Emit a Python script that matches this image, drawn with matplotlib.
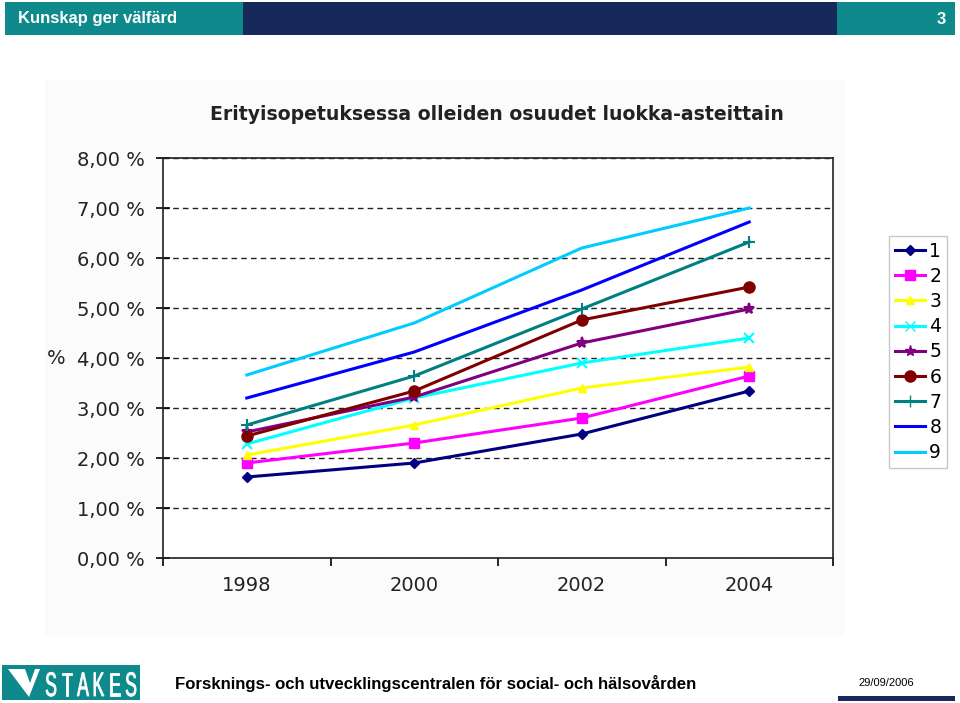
import matplotlib
matplotlib.use("Agg")
import matplotlib.pyplot as plt
from matplotlib.lines import Line2D
from matplotlib.patches import Rectangle, Polygon, PathPatch
from matplotlib.textpath import TextPath
from matplotlib.font_manager import FontProperties
from matplotlib.transforms import Affine2D, IdentityTransform
from matplotlib.ticker import FixedLocator, NullFormatter

plt.rcParams['font.family'] = ['Liberation Sans', 'DejaVu Sans']
chart_font = ['DejaVu Sans']

years = ["1998", "2000", "2002", "2004"]
grades = ["1", "2", "3", "4", "5", "6", "7", "8", "9"]

# share in special education, percent, per grade
g1 = [1.62, 1.90, 2.48, 3.34]
g2 = [1.90, 2.30, 2.80, 3.64]
g3 = [2.06, 2.66, 3.40, 3.82]
g4 = [2.28, 3.20, 3.90, 4.40]
g5 = [2.52, 3.22, 4.30, 4.98]
g6 = [2.44, 3.34, 4.76, 5.42]
g7 = [2.66, 3.64, 4.98, 6.32]
g8 = [3.20, 4.12, 5.36, 6.72]
g9 = [3.66, 4.70, 6.20, 7.00]
series = [g1, g2, g3, g4, g5, g6, g7, g8, g9]

colors = ["#000080", "#FF00FF", "#FFFF00", "#00FFFF", "#800080",
          "#800000", "#008080", "#0000FF", "#00CCFF"]
markers = ["D", "s", "^", "x", "*", "o", "+", None, None]
msizes = [5, 7, 6, 7, 8, 8, 9, 0, 0]

teal = "#0E898C"
navy = "#17285A"
ink = "#222222"

fig = plt.figure(figsize=(9.6, 7.03), dpi=100)

def box(x0, y0, w, h, color, z=1):
    # rectangle in pixel coords measured from the top-left corner
    fig.patches.append(Rectangle((x0/960, 1-(y0+h)/703), w/960, h/703,
                                 transform=fig.transFigure, facecolor=color,
                                 edgecolor="none", zorder=z))

# header bar
box(5, 2, 238, 33, teal)
box(243, 2, 594, 33, navy)
box(837, 2, 118, 33, teal)
fig.text(18/960, 1-19/703, "Kunskap ger välfärd", color="white", fontsize=12,
         fontweight="bold", va="center", ha="left")
fig.text(946/960, 1-19/703, "3", color="white", fontsize=12,
         fontweight="bold", va="center", ha="right")

# faint background of the pasted chart picture
box(45, 80, 800, 555, "#FBFBFB", z=-5)

ax = fig.add_axes([163/960, 145/703, 670/960, 400/703])
x = list(range(len(years)))
for vals, c, m, ms in zip(series, colors, markers, msizes):
    ax.plot(x, vals, color=c, linewidth=2.2, marker=m, markersize=ms,
            markeredgewidth=1.5 if m in ("x", "+", "*") else 1, markeredgecolor=c)

ax.set_xlim(-0.5, 3.5)
ax.set_ylim(0, 8)
ax.set_yticks(range(0, 9))
ax.set_yticklabels([f"{v},00 %" for v in range(0, 9)], fontsize=14, color=ink,
                   family=chart_font)
ax.set_xticks(x)
ax.set_xticklabels(years, fontsize=14, color=ink, family=chart_font)
ax.tick_params(axis="x", which="major", length=0, pad=13)
ax.xaxis.set_minor_locator(FixedLocator([-0.5, 0.5, 1.5, 2.5, 3.5]))
ax.xaxis.set_minor_formatter(NullFormatter())
ax.tick_params(axis="x", which="minor", length=6, direction="out", width=1.2)
ax.tick_params(axis="y", length=10, direction="inout", width=1.2, pad=8)
ax.grid(axis="y", color=ink, linestyle=(0, (4, 3)), linewidth=1)
ax.set_axisbelow(True)
for s in ax.spines.values():
    s.set_linewidth(1.2)
    s.set_color(ink)
ax.set_ylabel("%", rotation=0, fontsize=14, color=ink, family=chart_font, va="center")
ax.yaxis.set_label_coords(-0.16, 0.5)
ax.set_facecolor("white")

fig.text(497/960, 1-115/703, "Erityisopetuksessa olleiden osuudet luokka-asteittain",
         fontsize=13.6, fontweight="bold", ha="center", va="center", color=ink,
         family=chart_font)

handles = [Line2D([], [], color=c, marker=m, markersize=ms, linewidth=2.2,
                  markeredgecolor=c)
           for c, m, ms in zip(colors, markers, msizes)]
leg = fig.legend(handles, grades, loc="upper left", bbox_to_anchor=(889/960, 1-236/703),
                 prop={"family": chart_font, "size": 13.5}, frameon=True, fancybox=False,
                 handlelength=1.6, handletextpad=0.25, labelspacing=0.33, borderpad=0.3,
                 borderaxespad=0)
leg.get_frame().set_edgecolor("#BBBBBB")
leg.get_frame().set_linewidth(1)

# footer
box(2, 665, 138, 35, teal)
fig.patches.append(Polygon([(8/960, 34/703), (25/960, 34/703), (30/960, 20/703),
                            (35/960, 34/703), (40/960, 34/703), (29/960, 6/703)],
                           closed=True, transform=fig.transFigure,
                           facecolor="white", edgecolor="none"))
# condensed logo letters drawn as paths, in pixel coords
logo_fp = FontProperties(family="Liberation Sans")
for i, ch in enumerate("STAKES"):
    tp = TextPath((0, 0), ch, size=34, prop=logo_fp)
    ext = tp.get_extents()
    tr = (Affine2D().translate(-(ext.x0 + ext.x1)/2, 0).scale(0.52, 1.0)
          .translate(51 + i*16, 703 - 696))
    fig.patches.append(PathPatch(tp, transform=tr + IdentityTransform(),
                                 facecolor="white", edgecolor="white", linewidth=0.6))
fig.text(175/960, 20/703, "Forsknings- och utvecklingscentralen för social- och hälsovården",
         fontsize=12.1, fontweight="bold", ha="left", va="center", color="black")
fig.text(886/960, 20/703, "29/09/2006", fontsize=8, ha="center", va="center", color="black")
box(838, 696, 117, 5, navy)

fig.savefig("out.png", dpi=100)
